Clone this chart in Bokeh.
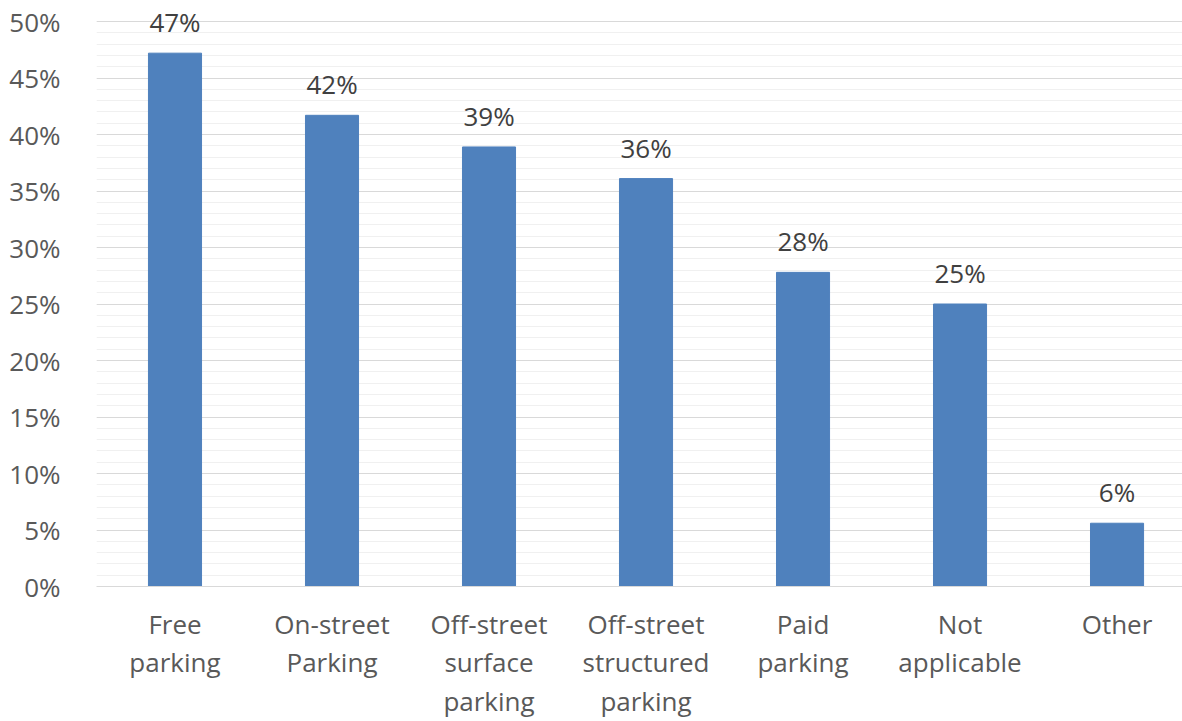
from bokeh.plotting import figure
from bokeh.models import Range1d, SingleIntervalTicker, FixedTicker, ColumnDataSource
from bokeh.embed import file_html
from bokeh.resources import INLINE
from bokeh.core.properties import value

categories = ["Free\nparking", "On-street\nParking", "Off-street\nsurface\nparking",
              "Off-street\nstructured\nparking", "Paid\nparking", "Not\napplicable", "Other"]
values = [47.2, 41.7, 38.9, 36.1, 27.8, 25.0, 5.6]
labels = ["47%", "42%", "39%", "36%", "28%", "25%", "6%"]
y_ticks = [0, 5, 10, 15, 20, 25, 30, 35, 40, 45, 50]

xs = list(range(len(categories)))
src = ColumnDataSource(dict(x=xs, top=values, lab=labels))

FONT = "Open Sans"
p = figure(width=1182, height=721, output_backend="svg", toolbar_location=None,
           x_range=Range1d(-0.5, 6.417), y_range=Range1d(0, 51.86),
           min_border_left=96, min_border_right=0, min_border_top=0, min_border_bottom=0)
p.outline_line_color = None
p.background_fill_color = "white"

p.vbar(x="x", top="top", width=0.338, source=src, color="#4f81bd")
p.text(x="x", y="top", text="lab", source=src, text_align="center", text_baseline="bottom",
       y_offset=-13, text_font=value(FONT), text_font_size="26px", text_color="#404040")

p.yaxis.ticker = SingleIntervalTicker(interval=5, num_minor_ticks=5)
p.yaxis.bounds = (0, 50)
p.yaxis.major_label_overrides = {t: f"{t}%" for t in y_ticks}
p.yaxis.axis_line_color = None
p.yaxis.major_tick_line_color = None
p.yaxis.minor_tick_line_color = None
p.yaxis.major_label_standoff = 30
p.yaxis.major_label_text_font = FONT
p.yaxis.major_label_text_font_size = "26px"
p.yaxis.major_label_text_color = "#595959"

p.xaxis.ticker = FixedTicker(ticks=xs)
p.xaxis.major_label_overrides = {i: c for i, c in enumerate(categories)}
p.xaxis.axis_line_color = "#d9d9d9"
p.xaxis.axis_line_width = 1
p.xaxis.major_tick_line_color = None
p.xaxis.minor_tick_line_color = None
p.xaxis.major_label_standoff = 13
p.xaxis.major_label_text_font = FONT
p.xaxis.major_label_text_font_size = "26px"
p.xaxis.major_label_text_color = "#595959"
p.xaxis.major_label_text_line_height = 1.073

p.xgrid.grid_line_color = None
p.ygrid.bounds = (0, 50)
p.ygrid.grid_line_color = "#d9d9d9"
p.ygrid.minor_grid_line_color = "#f0f0f0"

open("out.html", "w").write(file_html(p, INLINE))
